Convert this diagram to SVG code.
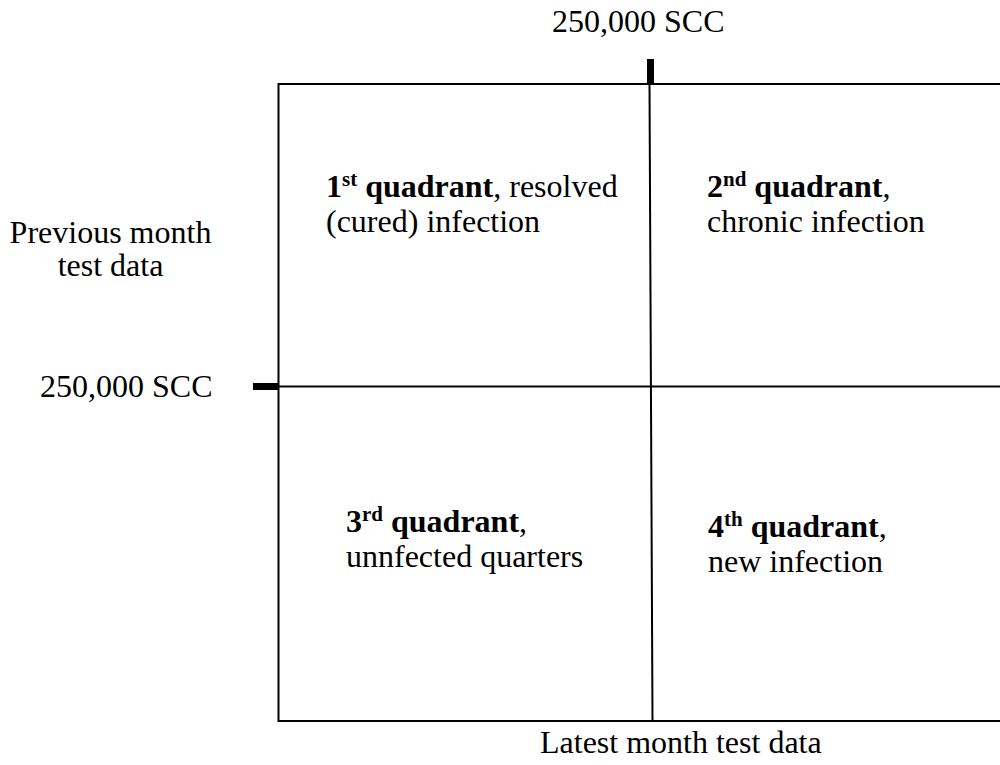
<svg xmlns="http://www.w3.org/2000/svg" width="1000" height="765" viewBox="0 0 1000 765" font-family="'Liberation Serif', 'Times New Roman', serif" font-size="32">
<style>
text, tspan{font-family:"Liberation Serif","Times New Roman",serif}
text{font-size:32px;fill:#000}
.b{font-weight:bold}
.sup{font-weight:bold;font-size:21px}
.ln{stroke:#000;stroke-width:2;fill:none}
</style>
<rect width="1000" height="765" fill="#fff"/>
<g id="grid">
<line class="ln" x1="278.5" y1="84" x2="1002" y2="84"/>
<line class="ln" x1="278.5" y1="721" x2="1002" y2="721"/>
<line class="ln" x1="278.5" y1="83" x2="278.5" y2="722"/>
<line class="ln" x1="278.5" y1="386.5" x2="1002" y2="386.5"/>
<line class="ln" x1="649.5" y1="84" x2="652.5" y2="721"/>
<rect x="647" y="59" width="7" height="24" fill="#000"/>
<rect x="253" y="383" width="26" height="7" fill="#000"/>
</g>
<g id="axis-labels">
<text x="552" y="32">250,000 SCC</text>
<text x="110.5" y="243" text-anchor="middle">Previous month</text>
<text x="110.5" y="276" text-anchor="middle">test data</text>
<text x="40" y="397">250,000 SCC</text>
<text x="540" y="753">Latest month test data</text>
</g>
<g id="q1">
<text x="326" y="197"><tspan class="b">1</tspan><tspan class="sup" dy="-11">st</tspan><tspan class="b" dy="11"> quadrant</tspan><tspan>, resolved</tspan></text>
<text x="326" y="232">(cured) infection</text>
</g>
<g id="q2">
<text x="707" y="197"><tspan class="b">2</tspan><tspan class="sup" dy="-11">nd</tspan><tspan class="b" dy="11"> quadrant</tspan><tspan>,</tspan></text>
<text x="707" y="232">chronic infection</text>
</g>
<g id="q3">
<text x="346" y="532"><tspan class="b">3</tspan><tspan class="sup" dy="-11">rd</tspan><tspan class="b" dy="11"> quadrant</tspan><tspan>,</tspan></text>
<text x="346" y="567">unnfected quarters</text>
</g>
<g id="q4">
<text x="708" y="537"><tspan class="b">4</tspan><tspan class="sup" dy="-11">th</tspan><tspan class="b" dy="11"> quadrant</tspan><tspan>,</tspan></text>
<text x="708" y="572">new infection</text>
</g>
</svg>
